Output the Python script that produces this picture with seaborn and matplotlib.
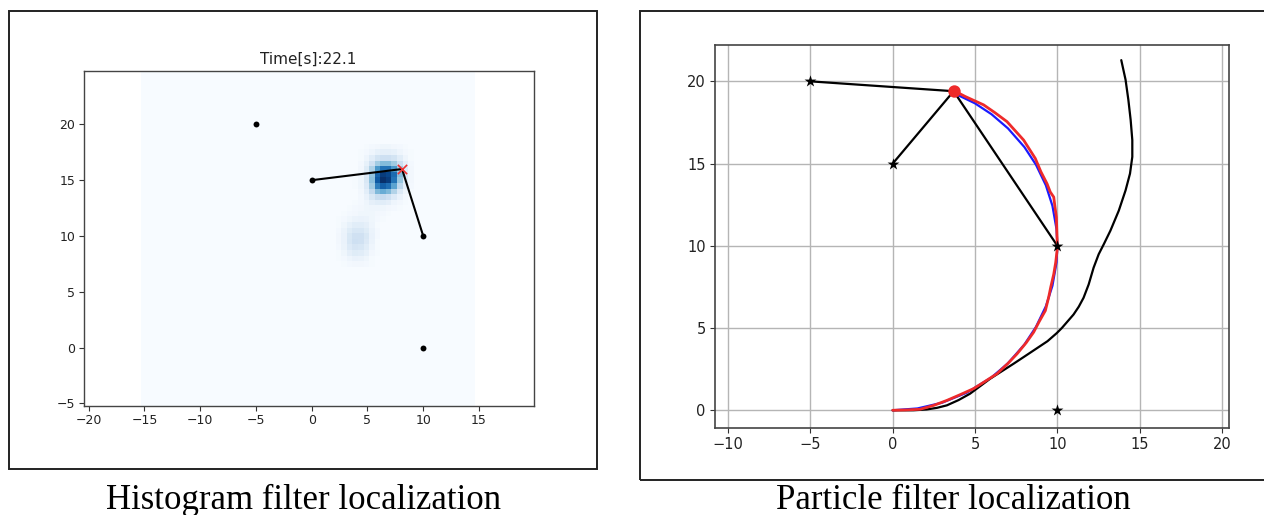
import numpy as np
import pandas as pd
import matplotlib
matplotlib.use("Agg")
import matplotlib.pyplot as plt
import seaborn as sns
from matplotlib.patches import Rectangle

# ---------------- data ----------------
# landmarks (shared by both panels)
lm_x = [-5.0, 0.0, 10.0, 10.0]
lm_y = [20.0, 15.0, 10.0, 0.0]

# histogram filter panel
hist_title = "Time[s]:22.1"
hist_est_x = 8.1
hist_est_y = 16.0
hist_obs_lm = [1, 2]           # indices of observed landmarks
hist_reso = 0.5
hist_min_x, hist_min_y = -15.0, -5.0
hist_n = 60
# belief patch (0..100), rows from y=18.0 (top) down to y=7.5, cols x=2.5..9.5
patch_x0, patch_y0 = 2.5, 7.5
belief_patch = [
    [0, 0, 0, 0, 0, 1, 2, 3, 4, 4, 3, 2, 1, 0, 0],
    [0, 0, 0, 0, 1, 2, 5, 8, 9, 9, 8, 5, 2, 1, 0],
    [0, 0, 0, 0, 1, 5, 11, 18, 21, 21, 18, 11, 5, 1, 0],
    [0, 0, 0, 0, 2, 8, 20, 36, 44, 44, 37, 22, 9, 2, 0],
    [0, 0, 0, 0, 3, 12, 32, 60, 74, 74, 60, 36, 12, 3, 0],
    [0, 0, 0, 1, 4, 14, 40, 80, 95, 92, 77, 44, 14, 3, 0],
    [0, 0, 0, 1, 4, 15, 42, 84, 100, 95, 74, 39, 12, 3, 0],
    [0, 0, 0, 1, 4, 13, 36, 70, 82, 76, 55, 28, 9, 2, 0],
    [0, 0, 0, 0, 3, 10, 26, 45, 51, 45, 31, 14, 5, 1, 0],
    [0, 0, 0, 0, 2, 7, 15, 23, 25, 21, 13, 7, 2, 0, 0],
    [0, 0, 0, 1, 2, 5, 9, 11, 11, 9, 5, 3, 1, 0, 0],
    [0, 0, 1, 2, 3, 4, 5, 5, 4, 3, 2, 1, 0, 0, 0],
    [0, 1, 2, 3, 4, 4, 4, 3, 2, 1, 0, 0, 0, 0, 0],
    [1, 2, 4, 6, 7, 6, 4, 2, 1, 0, 0, 0, 0, 0, 0],
    [1, 4, 8, 11, 11, 9, 5, 1, 0, 0, 0, 0, 0, 0, 0],
    [2, 6, 12, 16, 16, 12, 6, 2, 0, 0, 0, 0, 0, 0, 0],
    [3, 7, 15, 20, 20, 15, 7, 2, 0, 0, 0, 0, 0, 0, 0],
    [3, 7, 16, 21, 20, 14, 6, 1, 0, 0, 0, 0, 0, 0, 0],
    [2, 6, 13, 17, 16, 11, 5, 1, 0, 0, 0, 0, 0, 0, 0],
    [1, 4, 9, 12, 11, 8, 3, 1, 0, 0, 0, 0, 0, 0, 0],
    [1, 2, 5, 7, 6, 4, 1, 0, 0, 0, 0, 0, 0, 0, 0],
    [0, 1, 2, 3, 3, 2, 1, 0, 0, 0, 0, 0, 0, 0, 0],
]

# particle filter panel
true_x = [0, 1.5, 3.0, 4.5, 6.0, 7.0, 8.0, 8.7, 9.3, 9.7, 9.95, 10.0, 9.95,
          9.7, 9.3, 8.7, 8.0, 7.0, 6.0, 5.0, 3.7]
true_y = [0, 0.11, 0.46, 1.07, 2.0, 2.86, 4.0, 5.07, 6.32, 7.57, 9.0, 10.0,
          11.0, 12.43, 13.68, 14.93, 16.0, 17.14, 18.0, 18.66, 19.29]
est_x = [0, 0.8, 1.66, 2.5, 3.29, 4.1, 4.9, 5.6, 6.33, 7.0, 7.55, 8.1, 8.56,
         8.9, 9.27, 9.47, 9.6, 9.78, 9.9, 9.98, 10.0, 9.97, 9.94, 9.85, 9.78,
         9.57, 9.37, 9.0, 8.66, 7.95, 6.94, 6.2, 5.52, 4.4, 3.69]
est_y = [0, 0.02, 0.06, 0.3, 0.6, 0.95, 1.31, 1.75, 2.22, 2.85, 3.43, 4.1,
         4.75, 5.4, 6.06, 6.87, 7.5, 8.28, 9.0, 9.7, 10.0, 10.8, 11.73, 12.4,
         12.96, 13.27, 13.78, 14.5, 15.31, 16.43, 17.55, 18.1, 18.57, 19.08,
         19.45]
dr_x = [0, 1.26, 2.07, 2.7, 3.29, 4.0, 4.7, 5.92, 7.34, 8.2, 8.8, 9.4, 9.96,
        10.27, 10.98, 11.3, 11.59, 11.9, 12.2, 12.51, 12.82, 13.22, 13.73,
        14.14, 14.41, 14.55, 14.55, 14.45, 14.31, 14.14, 13.88]
dr_y = [0, 0, 0.05, 0.15, 0.3, 0.62, 1.01, 1.92, 2.83, 3.4, 3.8, 4.2, 4.69,
        5.0, 5.82, 6.3, 6.84, 7.65, 8.67, 9.49, 10.1, 10.92, 12.14, 13.37,
        14.39, 15.41, 16.43, 17.65, 18.88, 20.1, 21.29]
pf_est_x = 3.7
pf_est_y = 19.4
pf_obs_lm = [0, 1, 2]

captions = ["Histogram filter localization", "Particle filter localization"]

# ---------------- figure ----------------
W, H = 1264, 515
sns.set_style("ticks")
plt.rcParams['font.family'] = ['DejaVu Sans']
fig = plt.figure(figsize=(W / 100, H / 100), dpi=100)


def rect(l, t, r, b):
    return [l / W, 1 - b / H, (r - l) / W, (b - t) / H]


# outer frames
fig.add_artist(Rectangle((9 / W, 1 - 469 / H), (597 - 9) / W, (469 - 11) / H,
                         transform=fig.transFigure, fill=False,
                         ec="#222222", lw=1.4))
fig.add_artist(Rectangle((640 / W, 1 - 480 / H), (1275 - 640) / W, (480 - 11) / H,
                         transform=fig.transFigure, fill=False,
                         ec="#222222", lw=1.4))

# ---- left: histogram filter ----
axL = fig.add_axes(rect(83.5, 71, 533.5, 405.7))
grid = np.zeros((hist_n, hist_n))
patch = np.array(belief_patch, dtype=float)[::-1]
iy0 = int(round((patch_y0 - hist_min_y) / hist_reso))
ix0 = int(round((patch_x0 - hist_min_x) / hist_reso))
grid[iy0:iy0 + patch.shape[0], ix0:ix0 + patch.shape[1]] = patch
xe = hist_min_x - hist_reso / 2 + hist_reso * np.arange(hist_n + 1) - 0.1
ye = hist_min_y - hist_reso / 2 + hist_reso * np.arange(hist_n + 1)
axL.pcolormesh(xe, ye, grid, cmap="Blues", vmin=0, vmax=100, zorder=0)

for i in hist_obs_lm:
    sns.lineplot(x=[hist_est_x, lm_x[i]], y=[hist_est_y, lm_y[i]], ax=axL,
                 color="black", lw=1.5, sort=False, estimator=None, zorder=3)
sns.scatterplot(x=lm_x, y=lm_y, ax=axL, color="black", s=18, marker="o",
                linewidth=0, zorder=4)
sns.scatterplot(x=[hist_est_x], y=[hist_est_y], ax=axL, color="#ee3333",
                marker="x", s=45, linewidth=1.2, zorder=5)
axL.set_xlim(-20.47, 19.89)
axL.set_ylim(-5.2, 24.78)
axL.set_xticks([-20, -15, -10, -5, 0, 5, 10, 15])
axL.set_yticks([-5, 0, 5, 10, 15, 20])
axL.set_xticklabels(["\u221220", "\u221215", "\u221210", "\u22125", "0", "5", "10", "15"])
axL.set_yticklabels(["\u22125", "0", "5", "10", "15", "20"])
axL.tick_params(labelsize=9, length=3.5, width=0.8, color="#333333",
                labelcolor="#222222", pad=2.5)
for s in axL.spines.values():
    s.set_color("#444444")
    s.set_linewidth(1.0)
    s.set_visible(True)
axL.set_title(hist_title, fontsize=11, color="#222222", pad=5)
axL.set_xlabel("")
axL.set_ylabel("")

# ---- right: particle filter ----
axR = fig.add_axes(rect(714.7, 45, 1228.8, 427.7))
axR.grid(True, color="#b5b5b5", linewidth=1.0, zorder=0)
axR.set_axisbelow(True)
sns.lineplot(x=true_x, y=true_y, ax=axR, color="#1a1aff", lw=1.6,
             sort=False, estimator=None, zorder=3)
sns.lineplot(x=est_x, y=est_y, ax=axR, color="#ee2a2a", lw=2.0,
             sort=False, estimator=None, zorder=4)
sns.lineplot(x=dr_x, y=dr_y, ax=axR, color="black", lw=1.6,
             sort=False, estimator=None, zorder=3)
for i in pf_obs_lm:
    sns.lineplot(x=[pf_est_x, lm_x[i]], y=[pf_est_y, lm_y[i]], ax=axR,
                 color="black", lw=1.6, sort=False, estimator=None, zorder=3)
sns.scatterplot(x=lm_x, y=lm_y, ax=axR, color="black", s=80, marker="*",
                linewidth=0, zorder=5)
sns.scatterplot(x=[pf_est_x], y=[pf_est_y], ax=axR, color="#ee2a2a",
                s=80, marker="o", linewidth=0, zorder=6)
axR.set_xlim(-10.81, 20.41)
axR.set_ylim(-1.06, 22.21)
axR.set_xticks([-10, -5, 0, 5, 10, 15, 20])
axR.set_yticks([0, 5, 10, 15, 20])
axR.set_xticklabels(["\u221210", "\u22125", "0", "5", "10", "15", "20"])
axR.set_yticklabels(["0", "5", "10", "15", "20"])
axR.tick_params(labelsize=10.5, length=3.5, width=0.8, color="#333333",
                labelcolor="#222222", pad=3)
for s in axR.spines.values():
    s.set_color("#444444")
    s.set_linewidth(1.2)
    s.set_visible(True)
axR.set_xlabel("")
axR.set_ylabel("")

# captions
fig.text(303 / W, 1 - 509 / H, captions[0], family="Liberation Serif",
         size=25, ha="center", va="baseline", color="black")
fig.text(953 / W, 1 - 509 / H, captions[1], family="Liberation Serif",
         size=25, ha="center", va="baseline", color="black")

fig.savefig("out.png", dpi=100)
